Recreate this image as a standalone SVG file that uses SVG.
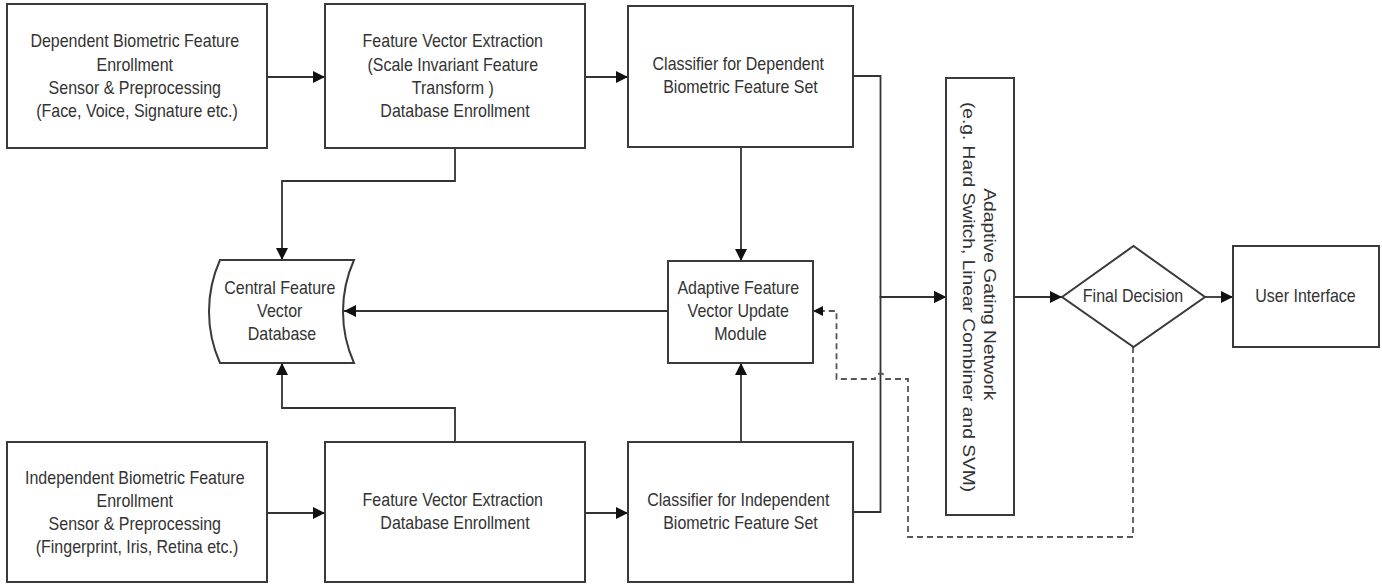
<svg xmlns="http://www.w3.org/2000/svg" width="1382" height="584" viewBox="0 0 1382 584">
  <style>
    .box { fill: #ffffff; stroke: #3a3a3a; stroke-width: 2; }
    .t { font-family: "Liberation Sans", Arial, sans-serif; font-size: 16px; fill: #333333; text-anchor: middle; }
    .wire { fill: none; stroke: #333333; stroke-width: 1.8; }
    .dash { fill: none; stroke: #555555; stroke-width: 1.8; stroke-dasharray: 6 4; }
  </style>
  <defs>
    <marker id="arr" viewBox="0 0 12 12" refX="12" refY="6" markerWidth="12" markerHeight="12" markerUnits="userSpaceOnUse" orient="auto">
      <path d="M0,0 L12,6 L0,12 z" fill="#111111"/>
    </marker>
    <marker id="arrs" viewBox="0 0 10 10" refX="10" refY="5" markerWidth="10" markerHeight="10" markerUnits="userSpaceOnUse" orient="auto">
      <path d="M0,0 L10,5 L0,10 z" fill="#111111"/>
    </marker>
  </defs>
  <rect width="1382" height="584" fill="#ffffff"/>

  <!-- connectors -->
  <g id="connectors">
    <path class="wire" d="M267,77 H325" marker-end="url(#arr)"/>
    <path class="wire" d="M585,77 H628" marker-end="url(#arr)"/>
    <path class="wire" d="M267,513 H325" marker-end="url(#arr)"/>
    <path class="wire" d="M585,513 H628" marker-end="url(#arr)"/>
    <path class="wire" d="M853,76 H880.5 V297 H946" marker-end="url(#arr)"/>
    <path class="wire" d="M853,512 H880.5 V297 H946" marker-end="url(#arr)"/>
    <path class="wire" d="M455,148 V181 H282 V260" marker-end="url(#arr)"/>
    <path class="wire" d="M455,442 V408 H282 V363" marker-end="url(#arr)"/>
    <path class="wire" d="M741,147 V261" marker-end="url(#arr)"/>
    <path class="wire" d="M741,442 V363" marker-end="url(#arr)"/>
    <path class="wire" d="M668,311 H344" marker-end="url(#arr)"/>
    <path class="wire" d="M1014,297 H1062" marker-end="url(#arr)"/>
    <path class="wire" d="M1205,297 H1233" marker-end="url(#arr)"/>
    <path class="dash" d="M1133,347 V537 H908 V379 H886 A5.5,5.5 0 0 0 875,379 H836.5 V311 H813" marker-end="url(#arrs)"/>
  </g>

  <g id="dep-enroll">
    <rect class="box" x="7" y="4" width="260" height="144"/>
    <text class="t" transform="translate(137,47.4) scale(1,1.2)">
      <tspan x="0" y="0">Dependent Biometric Feature</tspan>
      <tspan x="0" dy="19.33">Enrollment</tspan>
      <tspan x="0" dy="19.33">Sensor &amp; Preprocessing</tspan>
      <tspan x="0" dy="19.33">(Face, Voice, Signature etc.)</tspan>
    </text>
  </g>

  <g id="dep-extract">
    <rect class="box" x="325" y="4" width="260" height="144"/>
    <text class="t" transform="translate(455,47.4) scale(1,1.2)">
      <tspan x="0" y="0">Feature Vector Extraction</tspan>
      <tspan x="0" dy="19.33">(Scale Invariant Feature</tspan>
      <tspan x="0" dy="19.33">Transform )</tspan>
      <tspan x="0" dy="19.33">Database Enrollment</tspan>
    </text>
  </g>

  <g id="dep-classifier">
    <rect class="box" x="628" y="6" width="225" height="141"/>
    <text class="t" transform="translate(740.5,70.1) scale(1,1.2)">
      <tspan x="0" y="0">Classifier for Dependent</tspan>
      <tspan x="0" dy="19.33">Biometric Feature Set</tspan>
    </text>
  </g>

  <g id="central-db">
    <path class="box" d="M220,260 H354 A126,126 0 0 0 354,363 H220 A126,126 0 0 1 220,260 Z"/>
    <text class="t" transform="translate(282,294) scale(1,1.2)">
      <tspan x="0" y="0">Central Feature</tspan>
      <tspan x="0" dy="19.33">Vector</tspan>
      <tspan x="0" dy="19.33">Database</tspan>
    </text>
  </g>

  <g id="adaptive-update">
    <rect class="box" x="668" y="261" width="145" height="102"/>
    <text class="t" transform="translate(740.5,293.7) scale(1,1.2)">
      <tspan x="0" y="0">Adaptive Feature</tspan>
      <tspan x="0" dy="19.33">Vector Update</tspan>
      <tspan x="0" dy="19.33">Module</tspan>
    </text>
  </g>

  <g id="gating">
    <rect class="box" x="946" y="78" width="68" height="437"/>
    <text class="t" transform="translate(979,297) scale(1,1.2) rotate(90)">
      <tspan x="0" y="-5.3">Adaptive Gating Network</tspan>
      <tspan x="0" y="16.2">(e.g. Hard Switch, Linear Combiner and SVM)</tspan>
    </text>
  </g>

  <g id="final-decision">
    <path class="box" d="M1062,297 L1133.5,246 L1205,297 L1133.5,347 Z"/>
    <text class="t" transform="translate(1133,301.8) scale(1,1.2)">Final Decision</text>
  </g>

  <g id="user-interface">
    <rect class="box" x="1233" y="246" width="146" height="101"/>
    <text class="t" transform="translate(1305.5,301.8) scale(1,1.2)">User Interface</text>
  </g>

  <g id="ind-enroll">
    <rect class="box" x="7" y="442" width="260" height="140"/>
    <text class="t" transform="translate(137,483.7) scale(1,1.2)">
      <tspan x="0" y="0">Independent Biometric Feature</tspan>
      <tspan x="0" dy="19.33">Enrollment</tspan>
      <tspan x="0" dy="19.33">Sensor &amp; Preprocessing</tspan>
      <tspan x="0" dy="19.33">(Fingerprint, Iris, Retina etc.)</tspan>
    </text>
  </g>

  <g id="ind-extract">
    <rect class="box" x="325" y="442" width="260" height="140"/>
    <text class="t" transform="translate(455,505.7) scale(1,1.2)">
      <tspan x="0" y="0">Feature Vector Extraction</tspan>
      <tspan x="0" dy="19.33">Database Enrollment</tspan>
    </text>
  </g>

  <g id="ind-classifier">
    <rect class="box" x="628" y="442" width="225" height="140"/>
    <text class="t" transform="translate(740.5,505.7) scale(1,1.2)">
      <tspan x="0" y="0">Classifier for Independent</tspan>
      <tspan x="0" dy="19.33">Biometric Feature Set</tspan>
    </text>
  </g>
</svg>
